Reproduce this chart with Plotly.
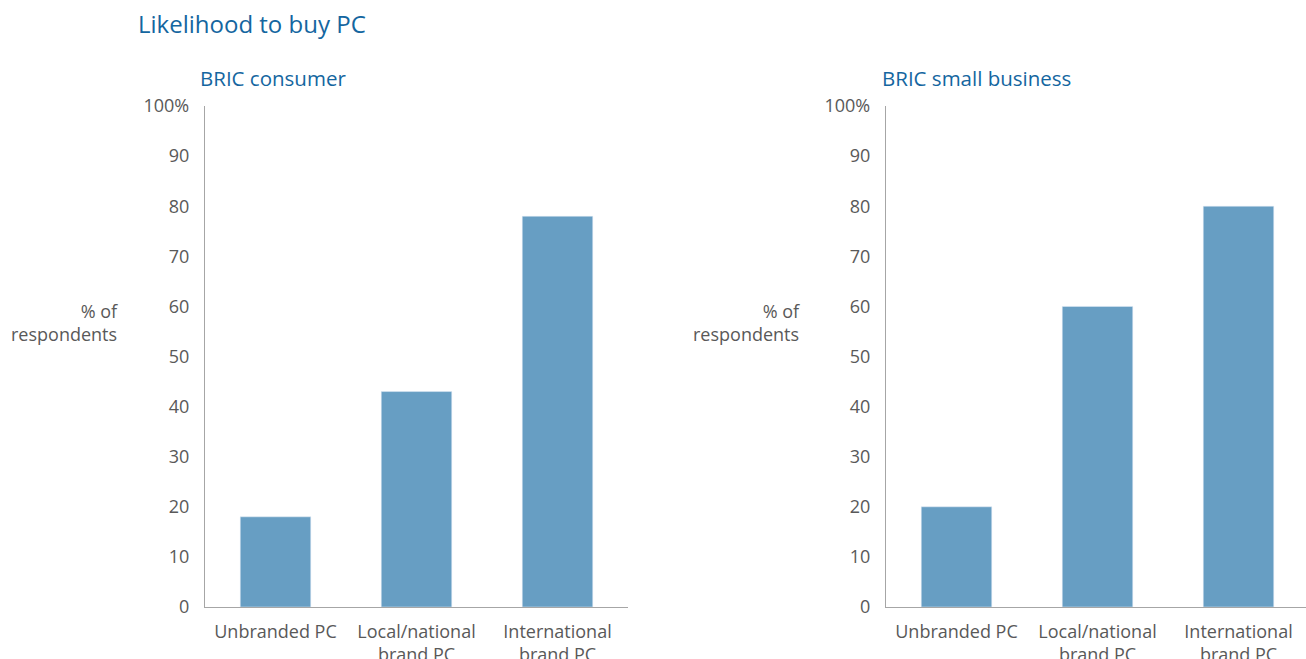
import plotly.graph_objects as go

# Survey results: share of respondents likely to buy each kind of PC
categories = ["Unbranded PC", "Local/national<br>brand PC", "International<br>brand PC"]
consumer_values = [18, 43, 78]
small_business_values = [20, 60, 80]

y_tick_vals = [0, 10, 20, 30, 40, 50, 60, 70, 80, 90, 100]
y_tick_text = ["0", "10", "20", "30", "40", "50", "60", "70", "80", "90", "100%"]

W, H = 1306, 659
BAR_COLOR = "#679ec3"
TITLE_COLOR = "#1466a0"
TEXT_COLOR = "#595959"
AXIS_COLOR = "#a6a6a6"
FONT = "Open Sans"

fig = go.Figure()
fig.add_trace(go.Bar(x=categories, y=consumer_values, marker_color=BAR_COLOR,
                     width=0.5, xaxis="x", yaxis="y", hoverinfo="x+y"))
fig.add_trace(go.Bar(x=categories, y=small_business_values, marker_color=BAR_COLOR,
                     width=0.5, xaxis="x2", yaxis="y2", hoverinfo="x+y"))

y_dom = [(H - 607) / H, (H - 106) / H]
cat_px = 141.0

axis_common = dict(showline=True, linecolor=AXIS_COLOR, linewidth=1.3,
                   showgrid=False, zeroline=False, ticks="", automargin=False,
                   tickfont=dict(family=FONT, size=18, color=TEXT_COLOR))

fig.update_layout(
    width=W, height=H,
    margin=dict(l=0, r=0, t=0, b=0),
    paper_bgcolor="white", plot_bgcolor="white",
    showlegend=False,
    font=dict(family=FONT, color=TEXT_COLOR),
    xaxis=dict(domain=[205 / W, 628 / W], range=[-0.5, 2.5], anchor="y",
               ticklabelstandoff=8, **axis_common),
    xaxis2=dict(domain=[886 / W, 1.0], range=[-0.5, -0.5 + (W - 886) / cat_px],
                anchor="y2", ticklabelstandoff=8, **axis_common),
    yaxis=dict(domain=y_dom, range=[0, 100], anchor="x",
               tickvals=y_tick_vals, ticktext=y_tick_text, ticklabelstandoff=11,
               **axis_common),
    yaxis2=dict(domain=y_dom, range=[0, 100], anchor="x2",
                tickvals=y_tick_vals, ticktext=y_tick_text, ticklabelstandoff=11,
                **axis_common),
    bargap=0.5,
)

annotations = [
    dict(text="Likelihood to buy PC", x=136 / W, y=1 - 24 / H, xref="paper", yref="paper",
         xanchor="left", yanchor="middle", showarrow=False,
         font=dict(family=FONT, size=24, color=TITLE_COLOR)),
    dict(text="BRIC consumer", x=198 / W, y=1 - 78 / H, xref="paper", yref="paper",
         xanchor="left", yanchor="middle", showarrow=False,
         font=dict(family=FONT, size=20.5, color=TITLE_COLOR)),
    dict(text="BRIC small business", x=880 / W, y=1 - 78 / H, xref="paper", yref="paper",
         xanchor="left", yanchor="middle", showarrow=False,
         font=dict(family=FONT, size=20.5, color=TITLE_COLOR)),
    dict(text="% of<br>respondents", x=120 / W, y=1 - 322 / H, xref="paper", yref="paper",
         xanchor="right", yanchor="middle", align="right", showarrow=False,
         font=dict(family=FONT, size=18, color=TEXT_COLOR)),
    dict(text="% of<br>respondents", x=802 / W, y=1 - 322 / H, xref="paper", yref="paper",
         xanchor="right", yanchor="middle", align="right", showarrow=False,
         font=dict(family=FONT, size=18, color=TEXT_COLOR)),
]
fig.update_layout(annotations=annotations)

fig.write_html("out.html")
